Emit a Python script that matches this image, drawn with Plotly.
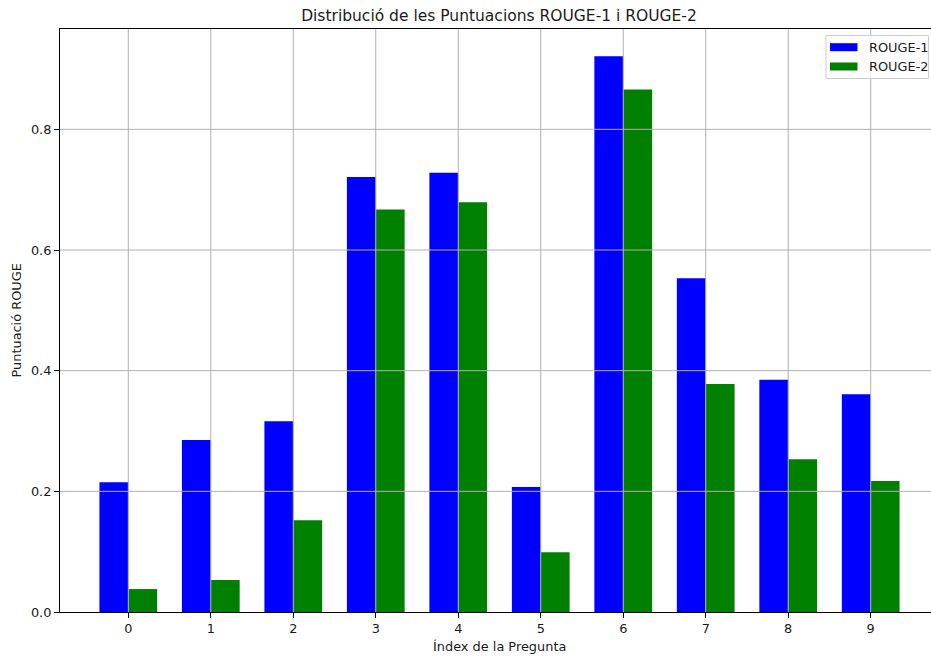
import plotly.graph_objects as go

# Question indices and ROUGE scores per question
question_idx = [0, 1, 2, 3, 4, 5, 6, 7, 8, 9]
rouge1 = [0.215, 0.285, 0.316, 0.721, 0.728, 0.207, 0.921, 0.553, 0.385, 0.361]
rouge2 = [0.038, 0.053, 0.152, 0.667, 0.679, 0.099, 0.866, 0.378, 0.253, 0.217]
series_names = ["ROUGE-1", "ROUGE-2"]
series_colors = ["#0000ff", "#008000"]
y_ticks = [0.0, 0.2, 0.4, 0.6, 0.8]

BAR_W = 0.35
FONT = "DejaVu Sans"
FS = 12.9        # tick labels, axis labels, legend
FS_TITLE = 15.5
TXT = "#1a1a1a"
GRID = "#b0b0b0"

# plot-area geometry in pixels (used for the hand-drawn legend box)
L, R, T, B = 60, 931, 29, 612
def px_x(p):
    return (p - L) / (R - L)
def px_y(p):
    return (B - p) / (B - T)

fig = go.Figure()
for vals, name, col, off in zip([rouge1, rouge2], series_names, series_colors, [-BAR_W, 0]):
    fig.add_trace(go.Bar(x=question_idx, y=vals, name=name, width=BAR_W, offset=off,
                         marker=dict(color=col, line=dict(width=0)), showlegend=False))

# grid lines drawn over the bars
shapes = []
for q in question_idx:
    shapes.append(dict(type="line", xref="x", yref="paper", x0=q, x1=q, y0=0, y1=1,
                       line=dict(color=GRID, width=1), layer="above"))
for t in y_ticks[1:]:
    shapes.append(dict(type="line", xref="paper", yref="y", x0=0, x1=1, y0=t, y1=t,
                       line=dict(color=GRID, width=1), layer="above"))

# legend box in the upper-right corner
shapes.append(dict(type="rect", xref="paper", yref="paper",
                   x0=px_x(826), x1=px_x(928.5), y0=px_y(35.5), y1=px_y(78.5),
                   fillcolor="rgba(255,255,255,0.8)", line=dict(color="#cccccc", width=1),
                   layer="above"))
annotations = []
for i, (name, col) in enumerate(zip(series_names, series_colors)):
    yc = 47.2 + i * 19.3
    shapes.append(dict(type="rect", xref="paper", yref="paper",
                       x0=px_x(830), x1=px_x(857.5), y0=px_y(yc - 4), y1=px_y(yc + 4),
                       fillcolor=col, line=dict(width=0), layer="above"))
    annotations.append(dict(text=name, xref="paper", yref="paper", x=px_x(867), y=px_y(yc),
                            xanchor="left", yanchor="middle", showarrow=False,
                            font=dict(size=FS, color=TXT)))

annotations += [
    dict(text="Índex de la Pregunta", xref="x", yref="paper", x=4.5, y=-0.059,
         xanchor="center", yanchor="middle", showarrow=False,
         font=dict(size=FS, color=TXT)),
    dict(text="Puntuació ROUGE", xref="paper", yref="paper", x=-0.0494, y=0.5,
         xanchor="center", yanchor="middle", textangle=-90, showarrow=False,
         font=dict(size=FS, color=TXT)),
]

x_lo, x_hi = -0.828, 9.731
fig.update_layout(
    width=931, height=661,
    margin=dict(l=L, r=931 - R, t=T, b=661 - B),
    plot_bgcolor="white", paper_bgcolor="white",
    barmode="overlay",
    showlegend=False,
    font=dict(family=FONT, size=FS, color=TXT),
    title=dict(text="Distribució de les Puntuacions ROUGE-1 i ROUGE-2",
               font=dict(family=FONT, size=FS_TITLE, color=TXT),
               x=0.504, xanchor="center", xref="paper",
               y=1 - 15.5 / 661, yanchor="middle", yref="container"),
    xaxis=dict(range=[x_lo, x_hi], tickvals=question_idx,
               ticktext=[str(q) for q in question_idx],
               showgrid=False, zeroline=False,
               showline=True, linecolor="black", linewidth=1, mirror=True,
               ticks="outside", ticklen=5, tickcolor="black", tickwidth=1,
               tickfont=dict(size=FS, color=TXT)),
    yaxis=dict(range=[0, 0.9663], tickvals=y_ticks,
               ticktext=[f"{t:.1f}" for t in y_ticks],
               showgrid=False, zeroline=False,
               showline=True, linecolor="black", linewidth=1, mirror=False,
               ticks="outside", ticklen=5, tickcolor="black", tickwidth=1,
               tickfont=dict(size=FS, color=TXT)),
    shapes=shapes,
    annotations=annotations,
)

fig.write_html("out.html")
